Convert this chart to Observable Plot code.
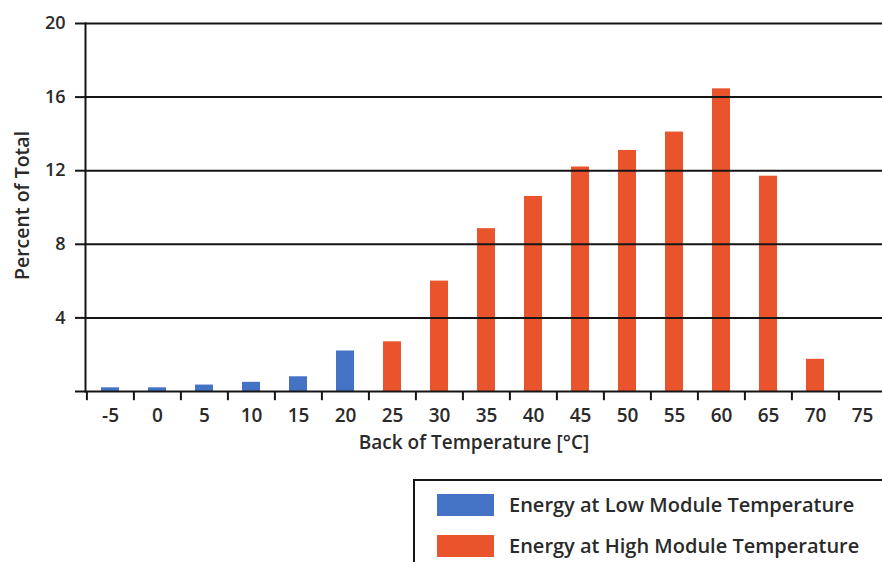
<!DOCTYPE html>
<html>
<head>
<meta charset="utf-8">
<script src="https://cdn.jsdelivr.net/npm/d3@7"></script>
<script src="https://cdn.jsdelivr.net/npm/@observablehq/plot@0.6"></script>
<style>
  html, body { margin: 0; padding: 0; background: #fff; overflow: hidden; }
  #wrap { position: relative; width: 882px; height: 562px; overflow: hidden; font-family: "Open Sans", Lato, sans-serif; }
  #legend { position: absolute; left: 413px; top: 479px; width: 520px; height: 120px; border: 2px solid #151515; box-sizing: border-box; }
  .item { position: absolute; left: 22px; display: flex; align-items: center; }
  .sw { width: 57px; height: 22px; margin-right: 15px; }
  .lab { font-size: 20px; font-weight: 600; color: #2a2a2a; white-space: nowrap; }
</style>
</head>
<body>
<div id="wrap"><div id="chart"></div><div id="legend"></div></div>
<script>
const temps = [-5, 0, 5, 10, 15, 20, 25, 30, 35, 40, 45, 50, 55, 60, 65, 70, 75];
const percents = [0.2, 0.2, 0.35, 0.5, 0.8, 2.2, 2.7, 6.0, 8.85, 10.6, 12.2, 13.1, 14.1, 16.45, 11.7, 1.75, 0];
const seriesIndex = [0, 0, 0, 0, 0, 0, 1, 1, 1, 1, 1, 1, 1, 1, 1, 1, 1];
const seriesNames = ["Energy at Low Module Temperature", "Energy at High Module Temperature"];
const seriesColors = ["#4472C4", "#E9542C"];
const yTicks = [0, 4, 8, 12, 16, 20];
const xTitle = "Back of Temperature [°C]";
const yTitle = "Percent of Total";

const data = temps.map((t, i) => ({t, v: percents[i], s: seriesNames[seriesIndex[i]]}));
const step = (887 - 85) / temps.length;

const chart = Plot.plot({
  width: 882,
  height: 470,
  marginLeft: 85,
  marginRight: 0,
  marginTop: 23,
  marginBottom: 79,
  style: {fontFamily: "'Open Sans', Lato, sans-serif", fontSize: "18px", fontWeight: 600, color: "#2a2a2a", background: "white"},
  x: {domain: temps, range: [85, 887], paddingInner: 0.61, paddingOuter: 0.305},
  y: {domain: [0, 20]},
  color: {domain: seriesNames, range: seriesColors},
  marks: [
    Plot.barY(data, {x: "t", y: "v", fill: "s"}),
    Plot.gridY(yTicks, {stroke: "#151515", strokeOpacity: 1, strokeWidth: 2}),
    Plot.ruleX(temps, {x: d => d, y1: 0, y2: -0.5, dx: -step / 2, stroke: "#151515", strokeWidth: 2}),
    Plot.frame({anchor: "left", stroke: "#151515", strokeWidth: 2}),
    Plot.axisY(yTicks, {tickSize: 10, tickPadding: 10, strokeWidth: 2, stroke: "#151515",
      tickFormat: d => d === 0 ? "" : String(d), label: null, fontSize: 18}),
    Plot.axisX(temps, {tickSize: 0, tickPadding: 17, tickFormat: d => String(d), label: null, fontSize: 19}),
    Plot.text([xTitle], {frameAnchor: "bottom", text: d => d, dy: 57, dx: -10, fontSize: 19, fill: "#2a2a2a"}),
    Plot.text([yTitle], {frameAnchor: "left", textAnchor: "middle", text: d => d, rotate: -90, dx: -63, dy: -2, fontSize: 19.5, fill: "#2a2a2a"})
  ]
});
document.getElementById("chart").appendChild(chart);

const legend = document.getElementById("legend");
seriesNames.forEach((name, i) => {
  const item = document.createElement("div");
  item.className = "item";
  item.style.top = (10 + i * 41) + "px";
  const sw = document.createElement("div");
  sw.className = "sw";
  sw.style.background = seriesColors[i];
  const lab = document.createElement("span");
  lab.className = "lab";
  lab.textContent = name;
  item.appendChild(sw);
  item.appendChild(lab);
  legend.appendChild(item);
});
</script>
</body>
</html>
